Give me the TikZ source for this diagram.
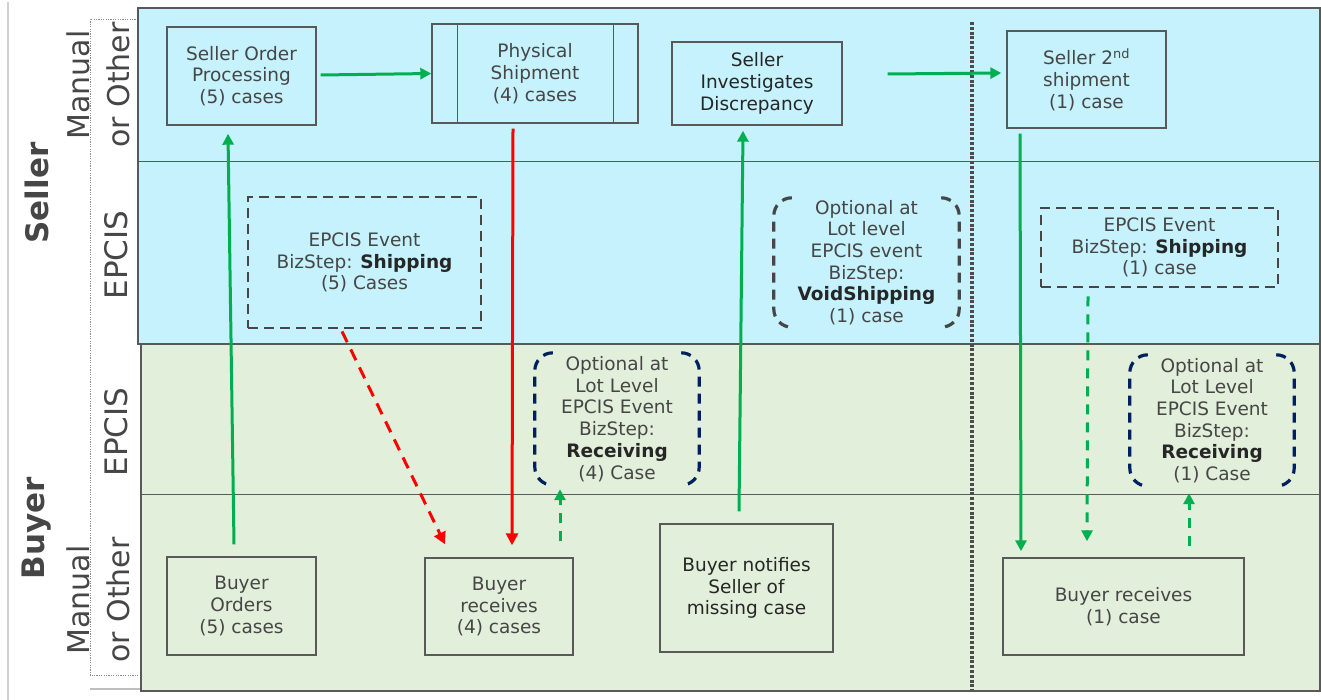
\documentclass[tikz,border=0pt]{standalone}
\usepackage{fontspec}
\setmainfont{DejaVu Sans}
\usetikzlibrary{arrows.meta}
\definecolor{laneblue}{RGB}{197,242,252}
\definecolor{lanegreen}{RGB}{226,239,218}
\definecolor{boxgray}{RGB}{89,89,89}
\definecolor{txtgray}{RGB}{70,70,70}
\definecolor{txtdark}{RGB}{38,38,38}
\definecolor{arrgreen}{RGB}{0,176,80}
\definecolor{arrred}{RGB}{255,0,0}
\definecolor{navyb}{RGB}{0,32,96}
\newcommand\mybxfont{\fontsize{18.5pt}{21.7pt}\selectfont}
\begin{document}
\begin{tikzpicture}[x=1pt,y=-1pt,
  procbox/.style={draw=boxgray,line width=1.4pt,inner sep=0pt,align=center,text=txtgray,font=\mybxfont},
  evbox/.style={draw=txtgray,line width=2.8pt,dash pattern=on 10pt off 6pt,inner sep=0pt,align=center,text=txtgray,font=\mybxfont},
  optnode/.style={inner sep=0pt,align=center,text=txtgray,font=\mybxfont},
  brk/.style={line width=3.2pt,dash pattern=on 10pt off 7pt,rounded corners=18pt},
  garrow/.style={draw=arrgreen,line width=3pt,-{Triangle[length=11pt,width=11pt]}},
  rarrow/.style={draw=arrred,line width=3pt,-{Triangle[length=12pt,width=12pt]}},
  gdash/.style={garrow,dash pattern=on 10pt off 8pt},
  rdash/.style={rarrow,dash pattern=on 12pt off 8pt},
  lanetxt/.style={text=txtgray,inner sep=0pt,rotate=90,align=center},
  lanetitle/.style={text=txtgray,inner sep=0pt,rotate=90,font=\fontsize{31pt}{36pt}\selectfont\bfseries}
]
\useasboundingbox (0,0) rectangle (1321,700);
\fill[white] (0,0) rectangle (1321,700);

% left decorations
\draw[black!18,line width=1.5pt] (8,2) -- (8,700);
\draw[black!45,line width=0.7pt,dash pattern=on 1.2pt off 1.2pt] (138,19) -- (90,19) -- (90,675) -- (141,675);
\draw[black!25,line width=2pt] (90,689) -- (141,689);

% lanes
\fill[laneblue] (138,8) rectangle (1320,344);
\fill[lanegreen] (141,344) rectangle (1320,691);
\draw[boxgray,line width=1.2pt] (138,8) rectangle (1320,344);
\draw[boxgray,line width=1.2pt] (141,344) rectangle (1320,691);
\draw[boxgray,line width=1pt] (138,162) -- (1320,162);
\draw[boxgray,line width=1pt] (141,494) -- (1320,494);

% lane labels
\node[lanetitle] (lseller) at (37,193) {Seller};
\node[lanetitle] (lbuyer) at (37,528) {Buyer};
\node[lanetxt,font=\fontsize{30pt}{40pt}\selectfont] (lsman) at (98,85) {Manual\\or Other};
\node[lanetxt,font=\fontsize{31pt}{36pt}\selectfont] (lsep) at (116,255) {EPCIS};
\node[lanetxt,font=\fontsize{31pt}{36pt}\selectfont] (lbep) at (116,432) {EPCIS};
\node[lanetxt,font=\fontsize{30pt}{40pt}\selectfont] (lbman) at (98,600) {Manual\\or Other};

% divider
\draw[black!70,line width=3.5pt,dash pattern=on 3pt off 1.8pt] (972,22) -- (972,690);

% process boxes
\node[procbox,minimum width=149pt,minimum height=98pt] (sop) at (241.5,76) {Seller Order\\Processing\\(5) cases};
\node[procbox,minimum width=206pt,minimum height=99pt] (ps) at (535,73.5) {Physical\\Shipment\\(4) cases};
\draw[boxgray,line width=1.4pt] ([xshift=26pt]ps.north west) -- ([xshift=26pt]ps.south west);
\draw[boxgray,line width=1.4pt] ([xshift=-25pt]ps.north east) -- ([xshift=-25pt]ps.south east);
\node[procbox,text=txtdark,minimum width=170pt,minimum height=83pt] (sid) at (757,83.5) {Seller\\Investigates\\Discrepancy};
\node[procbox,minimum width=159pt,minimum height=97pt] (s2) at (1086.5,79.5) {Seller 2\textsuperscript{nd}\\shipment\\(1) case};

\node[procbox,minimum width=149pt,minimum height=98pt] (bo) at (241.5,606) {Buyer\\Orders\\(5) cases};
\node[procbox,minimum width=148pt,minimum height=97pt] (br4) at (499,606.5) {Buyer\\receives\\(4) cases};
\node[procbox,text=txtdark,minimum width=173pt,minimum height=128pt] (bn) at (746.5,588) {Buyer notifies\\Seller of\\missing case};
\node[procbox,minimum width=241pt,minimum height=97pt] (br1) at (1123.5,606.5) {Buyer receives\\(1) case};

% EPCIS event boxes
\node[evbox,minimum width=233pt,minimum height=131pt] (ev1) at (364.5,262.5) {EPCIS Event\\BizStep: \textcolor{txtdark}{\textbf{Shipping}}\\(5) Cases};
\node[evbox,minimum width=237pt,minimum height=79pt] (ev2) at (1159.5,247.5) {EPCIS Event\\BizStep: \textcolor{txtdark}{\textbf{Shipping}}\\(1) case};

% optional (bracketed) events
\node[optnode,minimum width=185pt,minimum height=129pt] (void) at (866.5,262.5) {Optional at\\Lot level\\EPCIS event\\BizStep:\\\textcolor{txtdark}{\textbf{VoidShipping}}\\(1) case};
\node[optnode,minimum width=164pt,minimum height=132pt] (rec4) at (617,419) {Optional at\\Lot Level\\EPCIS Event\\BizStep:\\\textcolor{txtdark}{\textbf{Receiving}}\\(4) Case};
\node[optnode,minimum width=164pt,minimum height=131pt] (rec1) at (1212,420.5) {Optional at\\Lot Level\\EPCIS Event\\BizStep:\\\textcolor{txtdark}{\textbf{Receiving}}\\(1) Case};

\foreach \n/\c in {void/txtgray,rec4/navyb,rec1/navyb}{
  \draw[brk,draw=\c] ([xshift=18pt]\n.north west) -- (\n.north west) -- (\n.south west) -- ([xshift=18pt]\n.south west);
  \draw[brk,draw=\c] ([xshift=-18pt]\n.north east) -- (\n.north east) -- (\n.south east) -- ([xshift=-18pt]\n.south east);
}

% connectors
\draw[garrow] ([xshift=-7.5pt,yshift=12pt]bo.north) -- ([xshift=-13.5pt,yshift=-8pt]sop.south);
\draw[garrow] ([xshift=4pt,yshift=1pt]sop.east) -- (ps.west);
\draw[rarrow] ([xshift=-22pt,yshift=-5pt]ps.south) -- ([xshift=13pt,yshift=12pt]br4.north);
\draw[rdash] ([xshift=-22.5pt,yshift=-2pt]ev1.south) -- ([xshift=-54pt,yshift=13pt]br4.north);
\draw[gdash] ([xshift=61pt,yshift=16pt]br4.north) -- ([xshift=-57pt,yshift=-4pt]rec4.south);
\draw[garrow] ([xshift=-7.5pt,yshift=12pt]bn.north) -- ([xshift=-14pt,yshift=-5pt]sid.south);
\draw[garrow] ([xshift=45pt,yshift=9.5pt]sid.east) -- ([xshift=-5pt,yshift=6.5pt]s2.west);
\draw[garrow] ([xshift=-66.5pt,yshift=-5pt]s2.south) -- ([xshift=-102.5pt,yshift=6pt]br1.north);
\draw[gdash] ([xshift=-71.5pt,yshift=-8pt]ev2.south) -- ([xshift=-36.5pt,yshift=16pt]br1.north);
\draw[gdash] ([xshift=65.5pt,yshift=11pt]br1.north) -- ([xshift=-23pt,yshift=-7pt]rec1.south);
\end{tikzpicture}
\end{document}
